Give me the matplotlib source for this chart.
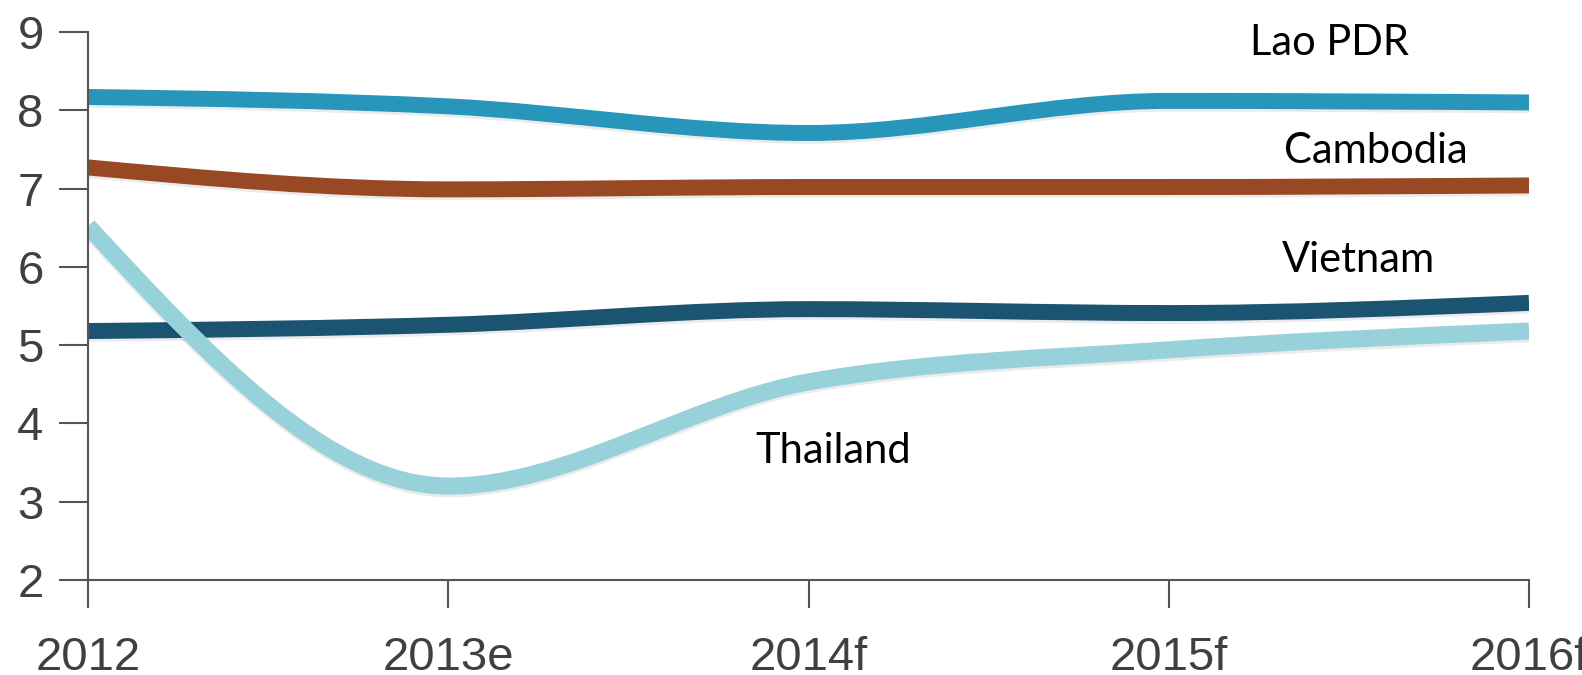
import numpy as np
import matplotlib
matplotlib.use("Agg")
import matplotlib.pyplot as plt
from matplotlib.path import Path
from matplotlib.patches import PathPatch
import matplotlib.patheffects as pe

categories = ["2012", "2013e", "2014f", "2015f", "2016f"]
lao = [8.17, 8.05, 7.71, 8.12, 8.10]
cambodia = [7.27, 6.99, 7.02, 7.02, 7.04]
vietnam = [5.18, 5.26, 5.46, 5.41, 5.54]
thailand = [6.52, 3.20, 4.53, 4.94, 5.18]
y_ticks = [2, 3, 4, 5, 6, 7, 8, 9]

series = [
    ("Lao PDR", lao, "#2896BA", 11.5),
    ("Cambodia", cambodia, "#984823", 11.5),
    ("Vietnam", vietnam, "#1B5471", 11.5),
    ("Thailand", thailand, "#97D2DA", 12.3),
]


def monotone_tangents(y):
    y = np.asarray(y, float)
    s = np.diff(y)
    n = len(y)
    m = np.zeros(n)
    for i in range(1, n - 1):
        s0, s1 = s[i - 1], s[i]
        p = (s0 + s1) / 2.0
        m[i] = (np.sign(s0) + np.sign(s1)) * min(abs(s0), abs(s1), 0.5 * abs(p))
    m[0] = (3 * s[0] - m[1]) / 2.0
    m[-1] = (3 * s[-1] - m[-2]) / 2.0
    return m


def smooth_path(y):
    x = np.arange(len(y), dtype=float)
    m = monotone_tangents(y)
    verts = [(x[0], y[0])]
    codes = [Path.MOVETO]
    for i in range(len(y) - 1):
        verts += [(x[i] + 1 / 3, y[i] + m[i] / 3),
                  (x[i + 1] - 1 / 3, y[i + 1] - m[i + 1] / 3),
                  (x[i + 1], y[i + 1])]
        codes += [Path.CURVE4] * 3
    return Path(verts, codes)


W, H = 1582, 675
fig = plt.figure(figsize=(W / 100, H / 100), dpi=100)
ax = fig.add_axes([88 / W, 1 - 580 / H, (1529 - 88) / W, (580 - 32) / H])

for name, vals, col, lw in series:
    patch = PathPatch(smooth_path(vals), facecolor="none", edgecolor=col,
                      linewidth=lw, capstyle="butt", joinstyle="round",
                      path_effects=[pe.SimpleLineShadow(offset=(0, -2), shadow_color="k", alpha=0.08),
                                    pe.Normal()])
    ax.add_patch(patch)

ax.set_xlim(0, len(categories) - 1)
ax.set_ylim(2, 9)
ax.set_xticks(range(len(categories)))
ax.set_xticklabels(categories)
ax.set_yticks(y_ticks)

for sp in ["top", "right"]:
    ax.spines[sp].set_visible(False)
for sp in ["left", "bottom"]:
    ax.spines[sp].set_color("#555555")
    ax.spines[sp].set_linewidth(1.5)

tick_font = "Liberation Sans"
ax.tick_params(axis="y", length=21, width=1.5, color="#555555", pad=11,
               labelsize=34, labelcolor="#404040")
ax.tick_params(axis="x", length=20, width=1.5, color="#555555", pad=20,
               labelsize=34, labelcolor="#404040")
for lab in ax.get_xticklabels() + ax.get_yticklabels():
    lab.set_fontfamily(tick_font)

label_pos = {
    "Lao PDR": (1250, 55),
    "Cambodia": (1284, 163),
    "Vietnam": (1282, 272),
    "Thailand": (755, 463),
}
for name, (px, py) in label_pos.items():
    fig.text(px / W, 1 - py / H, name, ha="left", va="baseline",
             fontsize=30, family="Lato", color="black")

fig.savefig("out.png", dpi=100)
